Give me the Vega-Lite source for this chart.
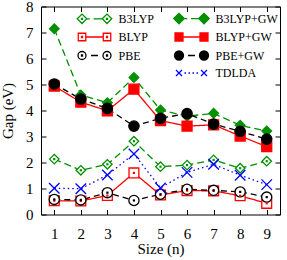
{
  "$schema": "https://vega.github.io/schema/vega-lite/v6.json",
  "width": 239,
  "height": 208,
  "autosize": "none",
  "padding": {"left": 41, "top": 6.5, "right": 7, "bottom": 45.5},
  "background": "white",
  "data": {"values": [
    {"n": 1, "series": "B3LYP", "gap": 2.13}, {"n": 2, "series": "B3LYP", "gap": 1.70}, {"n": 3, "series": "B3LYP", "gap": 1.93},
    {"n": 4, "series": "B3LYP", "gap": 2.82}, {"n": 5, "series": "B3LYP", "gap": 1.84}, {"n": 6, "series": "B3LYP", "gap": 1.90},
    {"n": 7, "series": "B3LYP", "gap": 2.10}, {"n": 8, "series": "B3LYP", "gap": 1.78}, {"n": 9, "series": "B3LYP", "gap": 2.05},
    {"n": 1, "series": "B3LYP+GW", "gap": 7.14}, {"n": 2, "series": "B3LYP+GW", "gap": 4.60}, {"n": 3, "series": "B3LYP+GW", "gap": 4.30},
    {"n": 4, "series": "B3LYP+GW", "gap": 5.27}, {"n": 5, "series": "B3LYP+GW", "gap": 4.02}, {"n": 6, "series": "B3LYP+GW", "gap": 3.78},
    {"n": 7, "series": "B3LYP+GW", "gap": 3.89}, {"n": 8, "series": "B3LYP+GW", "gap": 3.43}, {"n": 9, "series": "B3LYP+GW", "gap": 3.21},
    {"n": 1, "series": "BLYP", "gap": 0.53}, {"n": 2, "series": "BLYP", "gap": 0.52}, {"n": 3, "series": "BLYP", "gap": 0.73},
    {"n": 4, "series": "BLYP", "gap": 1.60}, {"n": 5, "series": "BLYP", "gap": 0.75}, {"n": 6, "series": "BLYP", "gap": 0.92},
    {"n": 7, "series": "BLYP", "gap": 0.91}, {"n": 8, "series": "BLYP", "gap": 0.72}, {"n": 9, "series": "BLYP", "gap": 0.43},
    {"n": 1, "series": "BLYP+GW", "gap": 4.94}, {"n": 2, "series": "BLYP+GW", "gap": 4.32}, {"n": 3, "series": "BLYP+GW", "gap": 3.99},
    {"n": 4, "series": "BLYP+GW", "gap": 4.82}, {"n": 5, "series": "BLYP+GW", "gap": 3.61}, {"n": 6, "series": "BLYP+GW", "gap": 3.40},
    {"n": 7, "series": "BLYP+GW", "gap": 3.45}, {"n": 8, "series": "BLYP+GW", "gap": 3.02}, {"n": 9, "series": "BLYP+GW", "gap": 2.61},
    {"n": 1, "series": "PBE", "gap": 0.58}, {"n": 2, "series": "PBE", "gap": 0.56}, {"n": 3, "series": "PBE", "gap": 0.84},
    {"n": 4, "series": "PBE", "gap": 0.54}, {"n": 5, "series": "PBE", "gap": 0.78}, {"n": 6, "series": "PBE", "gap": 0.97},
    {"n": 7, "series": "PBE", "gap": 0.93}, {"n": 8, "series": "PBE", "gap": 0.87}, {"n": 9, "series": "PBE", "gap": 0.67},
    {"n": 1, "series": "PBE+GW", "gap": 5.02}, {"n": 2, "series": "PBE+GW", "gap": 4.44}, {"n": 3, "series": "PBE+GW", "gap": 4.08},
    {"n": 4, "series": "PBE+GW", "gap": 3.40}, {"n": 5, "series": "PBE+GW", "gap": 3.70}, {"n": 6, "series": "PBE+GW", "gap": 3.88},
    {"n": 7, "series": "PBE+GW", "gap": 3.48}, {"n": 8, "series": "PBE+GW", "gap": 3.20}, {"n": 9, "series": "PBE+GW", "gap": 2.90},
    {"n": 1, "series": "TDLDA", "gap": 1.01}, {"n": 2, "series": "TDLDA", "gap": 0.99}, {"n": 3, "series": "TDLDA", "gap": 1.52},
    {"n": 4, "series": "TDLDA", "gap": 2.33}, {"n": 5, "series": "TDLDA", "gap": 1.02}, {"n": 6, "series": "TDLDA", "gap": 1.62},
    {"n": 7, "series": "TDLDA", "gap": 1.93}, {"n": 8, "series": "TDLDA", "gap": 1.51}, {"n": 9, "series": "TDLDA", "gap": 1.15}
  ]},
  "config": {
    "view": {"stroke": "#000000", "strokeWidth": 1},
    "font": "Liberation Serif",
    "axis": {
      "domain": false, "grid": false, "tickColor": "#000000", "tickWidth": 1, "tickSize": -5,
      "labelColor": "#000000", "labelFont": "Liberation Serif", "labelFontSize": 15, "labelFlush": false,
      "titleFont": "Liberation Serif", "titleFontSize": 15, "titleFontWeight": "normal", "titleColor": "#000000"
    }
  },
  "layer": [
    {
      "mark": {"type": "line", "strokeWidth": 1.3},
      "encoding": {
        "x": {"field": "n", "type": "quantitative", "scale": {"domain": [0.5, 9.5], "nice": false, "zero": false},
              "axis": {"orient": "bottom", "values": [1,2,3,4,5,6,7,8,9], "title": "Size (n)", "titleFontWeight": "normal", "labelPadding": 17, "titlePadding": 0}},
        "y": {"field": "gap", "type": "quantitative", "scale": {"domain": [0, 8], "nice": false},
              "axis": {"orient": "left", "values": [0,1,2,3,4,5,6,7,8], "title": "Gap (eV)", "titleFontWeight": "normal", "labelPadding": 13, "titlePadding": 10}},
        "color": {"field": "series", "type": "nominal",
          "scale": {"domain": ["B3LYP","BLYP","PBE"," ","B3LYP+GW","BLYP+GW","PBE+GW","TDLDA"],
                    "range": ["#009000","#ff0000","#000000","transparent","#009000","#ff0000","#000000","#0000ff"]},
          "legend": {
            "title": null, "orient": "none", "legendX": 36, "legendY": 6, "columns": 2,
            "symbolSize": 100, "symbolStrokeWidth": 1.3, "symbolOffset": 0,
            "labelFont": "Liberation Serif", "labelFontSize": 12, "labelColor": "#000000", "labelOffset": 29.5,
            "columnPadding": 17, "rowPadding": 3.5, "padding": 0,
            "encode": {"symbols": {"update": {
              "shape": {"signal": "{'B3LYP': 'M-1.15,0L-0.2,-0.95L0.75,0L-0.2,0.95ZM3.85,0L4.8,-0.95L5.75,0L4.8,0.95ZM0.75,0L1.35,0M2.1,0L3.85,0M-0.3,-0.1L-0.1,-0.1L-0.1,0.1L-0.3,0.1ZM4.7,-0.1L4.9,-0.1L4.9,0.1L4.7,0.1Z', 'B3LYP+GW': 'M-1.25,0L-0.2,-1.05L0.85,0L-0.2,1.05ZM3.75,0L4.8,-1.05L5.85,0L4.8,1.05ZM0.85,0L1.45,0M2.2,0L3.75,0', 'BLYP': 'M-0.95,-0.75L0.55,-0.75L0.55,0.75L-0.95,0.75ZM4.05,-0.75L5.55,-0.75L5.55,0.75L4.05,0.75ZM0.55,0L4.05,0M-0.3,-0.1L-0.1,-0.1L-0.1,0.1L-0.3,0.1ZM4.7,-0.1L4.9,-0.1L4.9,0.1L4.7,0.1Z', 'BLYP+GW': 'M-1,-0.8L0.6,-0.8L0.6,0.8L-1,0.8ZM4,-0.8L5.6,-0.8L5.6,0.8L4,0.8ZM0.6,0L4,0', 'PBE': 'M0.6,0C0.6,0.44 0.24,0.8 -0.2,0.8C-0.64,0.8 -1,0.44 -1,0C-1,-0.44 -0.64,-0.8 -0.2,-0.8C0.24,-0.8 0.6,-0.44 0.6,0ZM5.6,0C5.6,0.44 5.24,0.8 4.8,0.8C4.36,0.8 4,0.44 4,0C4,-0.44 4.36,-0.8 4.8,-0.8C5.24,-0.8 5.6,-0.44 5.6,0ZM1.6,0L3,0M-0.3,-0.1L-0.1,-0.1L-0.1,0.1L-0.3,0.1ZM4.7,-0.1L4.9,-0.1L4.9,0.1L4.7,0.1Z', 'PBE+GW': 'M0.7,0C0.7,0.5 0.3,0.9 -0.2,0.9C-0.7,0.9 -1.1,0.5 -1.1,0C-1.1,-0.5 -0.7,-0.9 -0.2,-0.9C0.3,-0.9 0.7,-0.5 0.7,0ZM5.7,0C5.7,0.5 5.3,0.9 4.8,0.9C4.3,0.9 3.9,0.5 3.9,0C3.9,-0.5 4.3,-0.9 4.8,-0.9C5.3,-0.9 5.7,-0.5 5.7,0ZM1.6,0L3,0', 'TDLDA': 'M-0.8,-0.6L0.4,0.6M-0.8,0.6L0.4,-0.6M4.2,-0.6L5.4,0.6M4.2,0.6L5.4,-0.6M0.9,0L1.2,0M1.7,0L2,0M2.5,0L2.8,0M3.3,0L3.6,0', ' ': 'M0,0'}[datum.value]"},
              "fill": {"signal": "indexof(['B3LYP+GW','BLYP+GW','PBE+GW'], datum.value) >= 0 ? scale('color', datum.value) : ((datum.value == 'TDLDA' || datum.value == ' ') ? 'transparent' : 'white')"},
              "stroke": {"signal": "scale('color', datum.value)"},
              "strokeWidth": {"value": 1.3},
              "strokeDash": {"value": []},
              "opacity": {"value": 1}
            }}}
          }},
        "strokeDash": {"field": "series", "type": "nominal",
          "scale": {"domain": ["B3LYP","B3LYP+GW","BLYP","BLYP+GW","PBE","PBE+GW","TDLDA"],
                    "range": [[7,4],[7,4],[1,0],[1,0],[6,4],[6,4],[1.5,3]]},
          "legend": null}
      }
    },
    {
      "mark": {"type": "point", "filled": false, "strokeWidth": 1.3, "opacity": 1},
      "encoding": {
        "x": {"field": "n", "type": "quantitative", "scale": {"domain": [0.5, 9.5], "nice": false, "zero": false},
              "axis": {"orient": "top", "values": [1,2,3,4,5,6,7,8,9], "labels": false, "title": null}},
        "y": {"field": "gap", "type": "quantitative", "scale": {"domain": [0, 8], "nice": false},
              "axis": {"orient": "right", "values": [0,1,2,3,4,5,6,7,8], "labels": false, "title": null}},
        "shape": {"field": "series", "type": "nominal",
          "scale": {"domain": ["B3LYP","B3LYP+GW","BLYP","BLYP+GW","PBE","PBE+GW","TDLDA"],
                    "range": ["diamond","diamond","square","square","circle","circle","M-1,-1L1,1M-1,1L1,-1"]},
          "legend": null},
        "size": {"field": "series", "type": "nominal",
          "scale": {"domain": ["B3LYP","B3LYP+GW","BLYP","BLYP+GW","PBE","PBE+GW","TDLDA"],
                    "range": [90,110,49,56,56,72,40]},
          "legend": null},
        "stroke": {"field": "series", "type": "nominal",
          "scale": {"domain": ["B3LYP","B3LYP+GW","BLYP","BLYP+GW","PBE","PBE+GW","TDLDA"],
                    "range": ["#009000","#009000","#ff0000","#ff0000","#000000","#000000","#0000ff"]},
          "legend": null},
        "fill": {"field": "series", "type": "nominal",
          "scale": {"domain": ["B3LYP","B3LYP+GW","BLYP","BLYP+GW","PBE","PBE+GW","TDLDA"],
                    "range": ["white","#009000","white","#ff0000","white","#000000","transparent"]},
          "legend": null}
      }
    },
    {
      "transform": [{"filter": {"field": "series", "oneOf": ["B3LYP","BLYP","PBE"]}}],
      "mark": {"type": "point", "shape": "square", "size": 1, "filled": false, "strokeWidth": 1.2, "opacity": 1},
      "encoding": {
        "x": {"field": "n", "type": "quantitative", "axis": null},
        "y": {"field": "gap", "type": "quantitative", "axis": null},
        "stroke": {"field": "series", "type": "nominal", "legend": null}
      }
    }
  ],
  "resolve": {"axis": {"x": "independent", "y": "independent"}}
}
